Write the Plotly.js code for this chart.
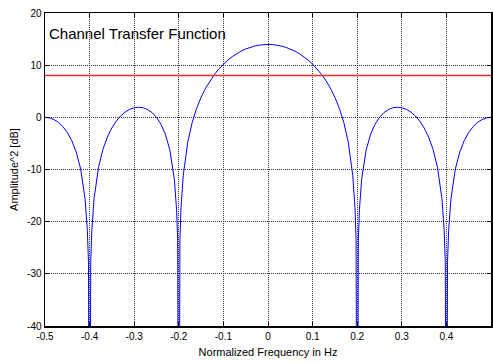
<!DOCTYPE html>
<html>
<head>
<meta charset="utf-8">
<script src="https://cdn.plot.ly/plotly-3.0.1.min.js"></script>
<style>html,body{margin:0;padding:0;background:#fff;}#chart{width:493px;height:363px;}</style>
</head>
<body>
<div id="chart"></div>
<script>
var freq = [-0.5,-0.49,-0.48,-0.47,-0.46,-0.45,-0.44,-0.43,-0.42,-0.41,-0.405,-0.4025,-0.4,-0.3975,-0.395,-0.39,-0.38,-0.37,-0.36,-0.35,-0.34,-0.33,-0.32,-0.31,-0.3,-0.29,-0.28,-0.27,-0.26,-0.25,-0.24,-0.23,-0.22,-0.21,-0.205,-0.2025,-0.2,-0.1975,-0.195,-0.19,-0.18,-0.17,-0.16,-0.15,-0.14,-0.13,-0.12,-0.11,-0.1,-0.09,-0.08,-0.07,-0.06,-0.05,-0.04,-0.03,-0.02,-0.01,0,0.01,0.02,0.03,0.04,0.05,0.06,0.07,0.08,0.09,0.1,0.11,0.12,0.13,0.14,0.15,0.16,0.17,0.18,0.19,0.195,0.1975,0.2,0.2025,0.205,0.21,0.22,0.23,0.24,0.25,0.26,0.27,0.28,0.29,0.3,0.31,0.32,0.33,0.34,0.35,0.36,0.37,0.38,0.39,0.395,0.3975,0.4,0.4025,0.405,0.41,0.42,0.43,0.44,0.45,0.46,0.47,0.48,0.49,0.5];
var amplitudeDb = [0,-0.10,-0.42,-0.96,-1.77,-2.90,-4.46,-6.65,-9.92,-15.76,-21.71,-27.71,-100,-27.66,-21.63,-15.58,-9.57,-6.11,-3.75,-2.01,-0.69,0.30,1.03,1.54,1.84,1.94,1.83,1.50,0.91,0,-1.32,-3.27,-6.29,-11.86,-17.68,-23.60,-100,-23.41,-17.30,-11.11,-4.78,-0.99,1.73,3.85,5.58,7.02,8.24,9.30,10.20,10.98,11.65,12.22,12.71,13.10,13.42,13.67,13.84,13.95,13.98,13.95,13.84,13.67,13.42,13.10,12.71,12.22,11.65,10.98,10.20,9.30,8.24,7.02,5.58,3.85,1.73,-0.99,-4.78,-11.11,-17.30,-23.41,-100,-23.60,-17.68,-11.86,-6.29,-3.27,-1.32,0,0.91,1.50,1.83,1.94,1.84,1.54,1.03,0.30,-0.69,-2.01,-3.75,-6.11,-9.57,-15.58,-21.63,-27.66,-100,-27.71,-21.71,-15.76,-9.92,-6.65,-4.46,-2.90,-1.77,-0.96,-0.42,-0.10,0];
var thresholdX = [-0.5, 0.5];
var thresholdY = [8, 8];
var xTicks = [-0.5,-0.4,-0.3,-0.2,-0.1,0,0.1,0.2,0.3,0.4,0.5];
var xTickLabels = ['-0.5','-0.4','-0.3','-0.2','-0.1','0','0.1','0.2','0.3','0.4','0.5'];
var yTicks = [-40,-30,-20,-10,0,10,20];
var yTickLabels = ['-40','-30','-20','-10','0','10','20'];
var titleText = 'Channel Transfer Function';

var FONT = '"Liberation Sans", Arial, sans-serif';

var traces = [
  {x: freq, y: amplitudeDb, type: 'scatter', mode: 'lines', line: {color: '#0000ff', width: 1}, hoverinfo: 'skip'},
  {x: thresholdX, y: thresholdY, type: 'scatter', mode: 'lines', line: {color: '#ee2a2a', width: 1.5}, hoverinfo: 'skip'}
];

var layout = {
  width: 493, height: 363,
  margin: {l: 45, r: 2, t: 13, b: 37},
  paper_bgcolor: '#fff', plot_bgcolor: '#fff',
  showlegend: false,
  font: {family: FONT, color: '#000', size: 10},
  xaxis: {
    range: [-0.5, 0.5], tickvals: xTicks, ticktext: xTickLabels,
    showgrid: true, gridcolor: '#333', griddash: '1px,1px', gridwidth: 1,
    zeroline: false, showline: true, mirror: 'ticks', linecolor: '#000', linewidth: 1.5,
    ticks: 'inside', ticklen: 4, tickcolor: '#000',
    tickfont: {family: FONT, size: 10, color: '#000'},
    title: {text: 'Normalized Frequency in Hz', font: {family: FONT, size: 11, color: '#000'}, standoff: 8}
  },
  yaxis: {
    range: [-40, 20], tickvals: yTicks, ticktext: yTickLabels,
    showgrid: true, gridcolor: '#333', griddash: '1px,1px', gridwidth: 1,
    zeroline: false, showline: true, mirror: 'ticks', linecolor: '#000', linewidth: 1.5,
    ticks: 'inside', ticklen: 4, tickcolor: '#000',
    tickfont: {family: FONT, size: 10, color: '#000'},
    title: {text: 'Amplitude^2 [dB]', font: {family: FONT, size: 11, color: '#000'}, standoff: 6}
  },
  annotations: [{
    text: titleText, xref: 'paper', yref: 'paper', x: 0.005, y: 0.935,
    xanchor: 'left', yanchor: 'middle', showarrow: false,
    font: {family: FONT, size: 15, color: '#000'}
  }]
};

Plotly.newPlot('chart', traces, layout, {displayModeBar: false, staticPlot: true});
</script>
</body>
</html>
